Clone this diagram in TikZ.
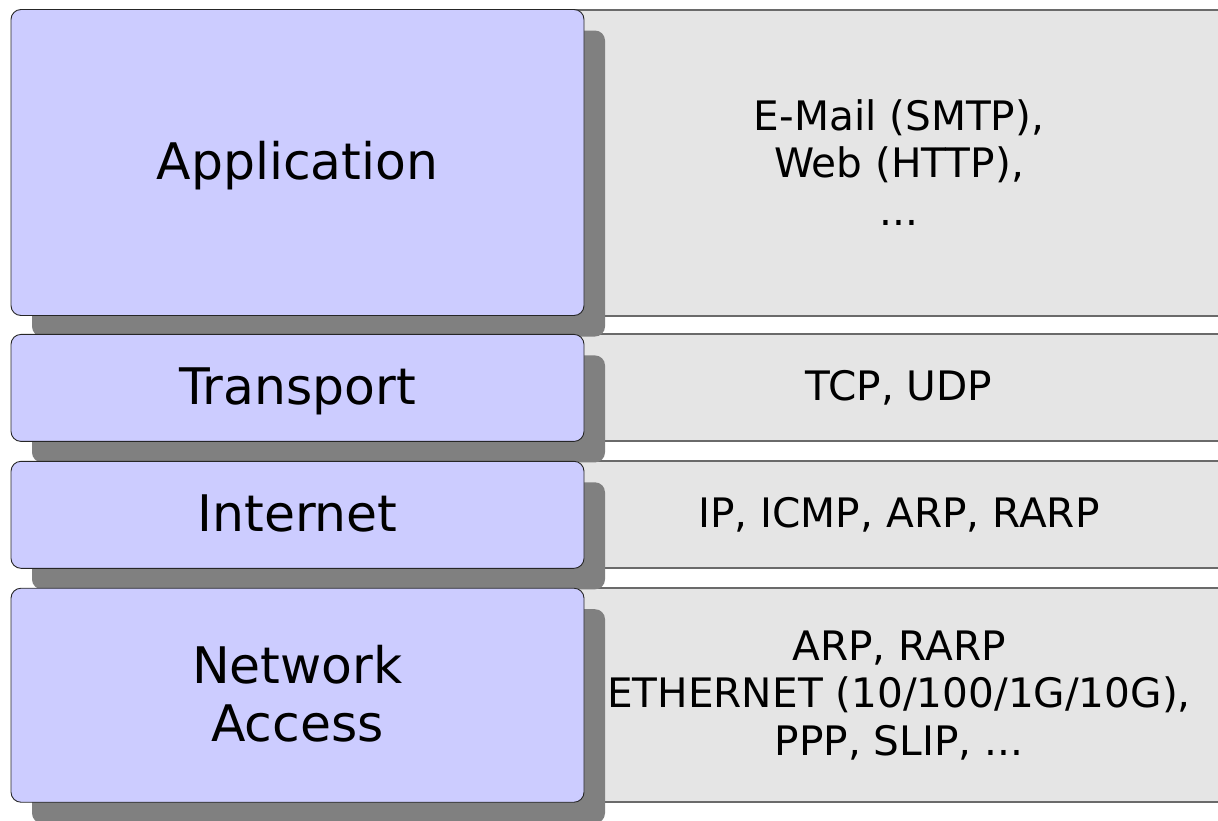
\documentclass[tikz,border=0pt]{standalone}
\usepackage{fontspec}
\setmainfont{DejaVu Sans}
\usetikzlibrary{positioning,shadows,backgrounds}
\definecolor{layerblue}{HTML}{CCCCFF}
\definecolor{protogray}{HTML}{E5E5E5}
\definecolor{protoline}{HTML}{6A6A6A}
\definecolor{shadegray}{HTML}{808080}
\tikzset{
  layer/.style ={rectangle, rounded corners=10pt, draw=black!85, line width=0.9pt,
                 fill=layerblue, minimum width=573pt, align=center,
                 font=\fontsize{50.4}{58}\selectfont, text depth=4pt,
                 drop shadow={shadow xshift=21pt, shadow yshift=-21pt,
                              fill=shadegray, opacity=1}},
  proto/.style ={rectangle, draw=protoline, line width=2pt, fill=protogray,
                 minimum width=1201pt, anchor=west, align=center,
                 font=\fontsize{40.6}{47.5}\selectfont},
}
\begin{document}
\begin{tikzpicture}[x=1pt,y=1pt]
\clip (0,0) rectangle (1218,-820);
\useasboundingbox (0,0) rectangle (1218,-820);

% layers of the stack
\node[layer, minimum height=306pt] (app) at (297.5,-162.5) {Application};
\node[layer, minimum height=107pt, below=18pt of app] (trans) {Transport};
\node[layer, minimum height=107pt, below=19pt of trans] (inet) {Internet};
\node[layer, minimum height=214pt, below=19pt of inet] (netacc) {Network\\Access};

% protocols of each layer
\begin{scope}[on background layer]
\node[proto, minimum height=306pt] (appP) at (app.center) {E-Mail (SMTP),\\Web (HTTP),\\...};
\node[proto, minimum height=107pt] (transP) at (trans.center) {TCP, UDP};
\node[proto, minimum height=107pt] (inetP) at (inet.center) {IP, ICMP, ARP, RARP};
\node[proto, minimum height=214pt] (netaccP) at (netacc.center) {ARP, RARP\\ETHERNET (10/100/1G/10G),\\PPP, SLIP, ...};
\end{scope}
\end{tikzpicture}
\end{document}
